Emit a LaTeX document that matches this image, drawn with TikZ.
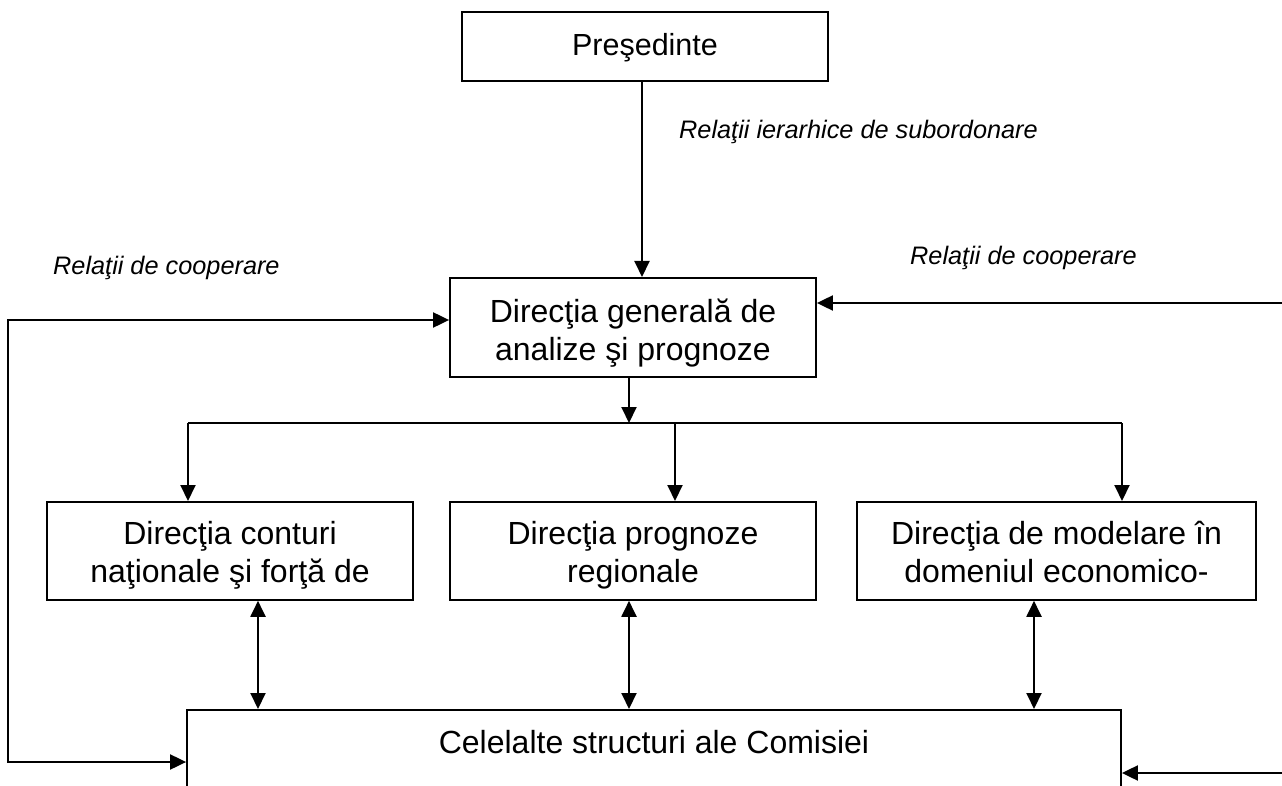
\documentclass[tikz,border=0pt]{standalone}
\usepackage{fontspec}
\setmainfont{Liberation Sans}
\usetikzlibrary{arrows.meta,calc}
\begin{document}
\begin{tikzpicture}[x=1pt,y=-1pt,
  box/.style={draw, line width=1.8pt, inner sep=0pt, align=center, font=\fontsize{32}{38}\selectfont},
  lab/.style={font=\fontsize{25.3}{30}\selectfont\itshape, inner sep=0pt},
  tip/.tip={Triangle[length=16pt,width=15pt]},
  arr/.style={line width=2pt, -tip},
  darr/.style={line width=2pt, tip-tip},
  ln/.style={line width=2pt}]
\clip (0,0) rectangle (1282,786);
\fill[white] (0,0) rectangle (1282,786);
\node[box, minimum width=366pt, text height=44pt, text depth=25pt, anchor=north, font=\fontsize{30.5}{36}\selectfont] (pres) at (645,11) {Preşedinte};
\node[box, minimum width=366pt, text height=83pt, text depth=16pt, anchor=north] (dg) at (633,277) {Direcţia generală de\\analize şi prognoze};
\node[box, minimum width=366pt, text height=81pt, text depth=17pt, anchor=north] (left) at (230,501) {Direcţia conturi\\naţionale şi forţă de};
\node[box, minimum width=366pt, text height=81pt, text depth=17pt, anchor=north] (mid) at (633,501) {Direcţia prognoze\\regionale};
\node[box, minimum width=399pt, text height=81pt, text depth=17pt, anchor=north] (right) at (1056.5,501) {Direcţia de modelare în\\domeniul economico-};
\node[box, minimum width=934pt, text height=44pt, text depth=100pt, anchor=north] (cel) at (654,709) {Celelalte structuri ale Comisiei};
\coordinate (bl) at (188,423);
\coordinate (bm) at (675,423);
\coordinate (br) at (1122,423);
\coordinate (bj) at (629,423);
\draw[arr] ([xshift=-3pt]pres.south) -- ([xshift=-3pt]pres.south |- dg.north);
\draw[arr] ([xshift=-4pt]dg.south) -- (bj);
\draw[ln] (bl) -- (br);
\draw[arr] (bl) -- (bl |- left.north);
\draw[arr] (bm) -- (bm |- mid.north);
\draw[arr] (br) -- (br |- right.north);
\coordinate (dl) at (258,0);
\coordinate (dm) at (629,0);
\coordinate (dr) at (1034,0);
\draw[darr] (dl |- left.south) -- (dl |- cel.north);
\draw[darr] (dm |- mid.south) -- (dm |- cel.north);
\draw[darr] (dr |- right.south) -- (dr |- cel.north);
\coordinate (la) at (8,320);
\coordinate (lb) at (8,762);
\draw[darr] (la -| dg.west) -- (la) -- (lb) -- (lb -| cel.west);
\coordinate (ra) at (1290,303);
\coordinate (rb) at (1290,773);
\draw[arr] (ra) -- (ra -| dg.east);
\draw[arr] (rb) -- (rb -| cel.east);
\node[lab, anchor=west] (l1) at (679,132) {Relaţii ierarhice de subordonare};
\node[lab, anchor=west] (l2) at (53,268) {Relaţii de cooperare};
\node[lab, anchor=west] (l3) at (910,258) {Relaţii de cooperare};
\end{tikzpicture}
\end{document}
